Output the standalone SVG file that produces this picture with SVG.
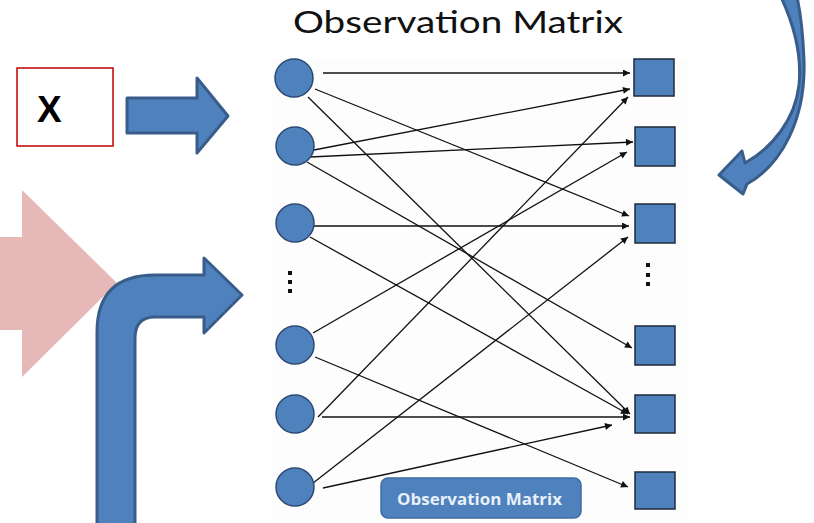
<svg xmlns="http://www.w3.org/2000/svg" width="814" height="523" viewBox="0 0 814 523">
  <defs>
    <style>
      .circ { fill: #4F81BD; stroke: #2B4A73; stroke-width: 1.5; }
      .sq { fill: #4F81BD; stroke: #1E2B3C; stroke-width: 1.5; }
      .blk { fill: #4F81BD; stroke: #385D8A; stroke-width: 3; stroke-linejoin: round; }
      .edge { stroke: #111; stroke-width: 1.3; fill: none; marker-end: url(#tip); }
      .dot { fill: #111; }
    </style>
    <marker id="tip" viewBox="0 0 10 10" refX="10" refY="5" markerWidth="8" markerHeight="7" markerUnits="userSpaceOnUse" orient="auto">
      <path d="M0,0 L10,5 L0,10 Z" fill="#111"/>
    </marker>
  </defs>

  <rect width="814" height="523" fill="#FFFFFF"/>
  <rect x="272" y="58" width="416" height="462" fill="#FDFDFD"/>

  <!-- title -->
  <text x="293" y="33" font-family="Lato, 'Open Sans', 'Liberation Sans', sans-serif" font-size="30" fill="#111" textLength="330" lengthAdjust="spacingAndGlyphs">Observation Matrix</text>

  <!-- input box -->
  <g id="input-x">
    <rect x="17" y="68" width="96" height="78" fill="#FFFFFF" stroke="#C00000" stroke-width="1.5"/>
    <text x="37" y="122" font-family="'Liberation Sans', Arial, sans-serif" font-size="37" font-weight="bold" fill="#000">X</text>
  </g>

  <!-- block arrow into matrix -->
  <g id="arrow-x">
    <path class="blk" d="M127,98 L197,98 L197,78 L228,116 L197,153 L197,133 L127,133 Z"/>
  </g>

  <!-- pink block arrow -->
  <g id="arrow-pink">
    <path d="M-5,237 L22,237 L22,190 L117,283 L22,377 L22,330 L-5,330 Z" fill="#E6B9B8"/>
  </g>

  <!-- bent arrow -->
  <g id="arrow-bent">
    <path class="blk" d="M97,526 L97,332 Q97,275 155,275 L204,275 L204,258 L242,295 L204,333 L204,317 L155,317 Q135,317 135,338 L135,526 Z"/>
  </g>

  <!-- curved arrow -->
  <g id="arrow-curved">
    <path class="blk" d="M781,-3 C794,25 802,55 799,85 C795,120 772,148 745,163 L742,151 L719,175 L743,194 L747,184 C781,165 806,120 804,60 C803,35 801,15 797,-3 Z"/>
  </g>

  <!-- connectors -->
  <g id="connectors">
    <line class="edge" x1="323" y1="73" x2="630" y2="73"/>
    <line class="edge" x1="315" y1="89" x2="629" y2="216"/>
    <line class="edge" x1="308" y1="97" x2="630" y2="414"/>
    <line class="edge" x1="314" y1="150" x2="630" y2="89"/>
    <line class="edge" x1="310" y1="157" x2="633" y2="142"/>
    <line class="edge" x1="307" y1="162" x2="632" y2="348"/>
    <line class="edge" x1="310" y1="226" x2="629" y2="226"/>
    <line class="edge" x1="310" y1="237" x2="628" y2="414"/>
    <line class="edge" x1="313" y1="333" x2="627" y2="152"/>
    <line class="edge" x1="315" y1="357" x2="628" y2="487"/>
    <line class="edge" x1="318" y1="417" x2="628" y2="97"/>
    <line class="edge" x1="322" y1="417" x2="630" y2="417"/>
    <line class="edge" x1="308" y1="487" x2="628" y2="237"/>
    <line class="edge" x1="323" y1="488" x2="612" y2="425"/>
  </g>

  <!-- source nodes -->
  <g id="c1"><circle class="circ" cx="294" cy="78" r="19"/></g>
  <g id="c2"><circle class="circ" cx="295" cy="146" r="19"/></g>
  <g id="c3"><circle class="circ" cx="295" cy="223" r="19"/></g>
  <g id="c-more">
    <rect class="dot" x="288" y="271" width="4" height="4"/>
    <rect class="dot" x="288" y="280" width="4" height="4"/>
    <rect class="dot" x="288" y="289" width="4" height="4"/>
  </g>
  <g id="c4"><circle class="circ" cx="295" cy="345" r="19"/></g>
  <g id="c5"><circle class="circ" cx="295" cy="414" r="19"/></g>
  <g id="c6"><circle class="circ" cx="295" cy="487" r="19"/></g>

  <!-- target nodes -->
  <g id="s1"><rect class="sq" x="634" y="59" width="40" height="37"/></g>
  <g id="s2"><rect class="sq" x="635" y="127" width="40" height="39"/></g>
  <g id="s3"><rect class="sq" x="635" y="204" width="40" height="39"/></g>
  <g id="s-more">
    <rect class="dot" x="646" y="263" width="4" height="4"/>
    <rect class="dot" x="646" y="273" width="4" height="4"/>
    <rect class="dot" x="646" y="282" width="4" height="4"/>
  </g>
  <g id="s4"><rect class="sq" x="635" y="326" width="40" height="39"/></g>
  <g id="s5"><rect class="sq" x="635" y="395" width="40" height="38"/></g>
  <g id="s6"><rect class="sq" x="635" y="472" width="40" height="37"/></g>

  <!-- caption badge -->
  <g id="badge">
    <rect x="381" y="478" width="200" height="40" rx="7" fill="#4F81BD" stroke="#3F6DA3" stroke-width="1.5"/>
    <text x="397" y="505" font-family="'Open Sans', 'Liberation Sans', sans-serif" font-size="16" font-weight="bold" fill="#E8F0FA" textLength="165" lengthAdjust="spacingAndGlyphs">Observation Matrix</text>
  </g>
</svg>
